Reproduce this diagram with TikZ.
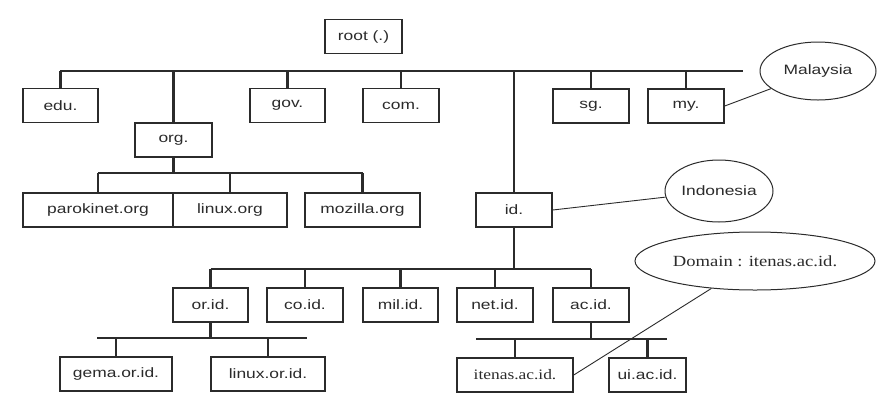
\documentclass[tikz,border=0pt]{standalone}
\usepackage{fontspec}
\setmainfont{Liberation Serif}
\newfontfamily\sansf[FakeStretch=1.28]{Liberation Sans}
\newfontfamily\seriff[FakeStretch=1.2]{Liberation Serif}
\usetikzlibrary{shapes.geometric}
\definecolor{ink}{HTML}{2B2B2B}
\begin{document}
\begin{tikzpicture}[x=1pt,y=-1pt,
  dbox/.style={draw=ink,line width=1.5pt,fill=white,minimum height=34pt,inner sep=0pt,
    font=\sansf\fontsize{13.6}{15}\selectfont,text=ink},
  sbox/.style={dbox,font=\seriff\fontsize{14.5}{16}\selectfont},
  bus/.style={draw=ink,line width=2.8pt},
  oval/.style={draw=ink,line width=1pt,ellipse,inner sep=0pt,fill=white,
    font=\sansf\fontsize{13.6}{15}\selectfont,text=ink},
  link/.style={draw=ink,line width=0.9pt}]
\useasboundingbox[fill=white] (0,0) rectangle (881,405);

% boxes
\node[dbox,minimum width=77pt] (root) at (363.5,36.5) {root (.)};
\node[dbox,minimum width=75pt] (edu) at (60.5,105.5) {edu.};
\node[dbox,minimum width=75pt] (gov) at (287.5,105.5) {gov.};
\node[dbox,minimum width=76pt] (com) at (401,105.5) {com.};
\node[dbox,minimum width=76pt] (sg) at (591,106) {sg.};
\node[dbox,minimum width=76pt] (my) at (686,106) {my.};
\node[dbox,minimum width=77pt] (org) at (173.5,140) {org.};
\node[dbox,minimum width=150pt] (paro) at (98,210) {parokinet.org};
\node[dbox,minimum width=114pt] (linuxorg) at (230,210) {linux.org};
\node[dbox,minimum width=115pt] (mozilla) at (362.5,210) {mozilla.org};
\node[dbox,minimum width=76pt] (id) at (514,210) {id.};
\node[dbox,minimum width=75pt] (orid) at (210.5,305) {or.id.};
\node[dbox,minimum width=76pt] (coid) at (305,305) {co.id.};
\node[dbox,minimum width=75pt] (milid) at (400.5,305) {mil.id.};
\node[dbox,minimum width=76pt] (netid) at (495,305) {net.id.};
\node[dbox,minimum width=76pt] (acid) at (591,305) {ac.id.};
\node[dbox,minimum width=112pt] (gema) at (116,374) {gema.or.id.};
\node[dbox,minimum width=114pt] (linuxorid) at (268,374) {linux.or.id.};
\node[sbox,minimum width=116pt] (itenas) at (515,375) {itenas.ac.id.};
\node[dbox,minimum width=77pt] (ui) at (647.5,375) {ui.ac.id.};

% ovals
\node[oval,minimum width=116pt,minimum height=58pt] (mal) at (818,71) {Malaysia};
\node[oval,minimum width=108pt,minimum height=62pt] (indo) at (719,191) {Indonesia};
\node[oval,minimum width=240pt,minimum height=58pt,
  font=\seriff\fontsize{15.5}{17}\selectfont] (dom) at (755,261) {Domain : itenas.ac.id.};

% bus coordinates
\coordinate (b1l) at (60,71);  \coordinate (b1r) at (743,71);
\coordinate (b2l) at (98,173); \coordinate (b2r) at (362.5,173);
\coordinate (b3l) at (210.5,269); \coordinate (b3r) at (591,269);
\coordinate (b4l) at (97,338); \coordinate (b4r) at (307,338);
\coordinate (b5l) at (476,339); \coordinate (b5r) at (667,339);

% top level
\draw[bus] (b1l) -- (b1r);
\foreach \n in {edu,org,gov,com,sg,my,id} \draw[bus] (\n.north) -- (\n.north |- b1l);
% org level
\draw[bus] (b2l) -- (b2r);
\draw[bus] (org.south) -- (org.south |- b2l);
\foreach \n in {paro,linuxorg,mozilla} \draw[bus] (\n.north) -- (\n.north |- b2l);
% id level
\draw[bus] (b3l) -- (b3r);
\draw[bus] (id.south) -- (id.south |- b3l);
\foreach \n in {orid,coid,milid,netid,acid} \draw[bus] (\n.north) -- (\n.north |- b3l);
% or.id level
\draw[bus] (b4l) -- (b4r);
\draw[bus] (orid.south) -- (orid.south |- b4l);
\foreach \n in {gema,linuxorid} \draw[bus] (\n.north) -- (\n.north |- b4l);
% ac.id level
\draw[bus] (b5l) -- (b5r);
\draw[bus] (acid.south) -- (acid.south |- b5l);
\foreach \n in {itenas,ui} \draw[bus] (\n.north) -- (\n.north |- b5l);

% callouts
\draw[link] (my.east) -- (mal);
\draw[link] (id.east) -- (indo);
\draw[link] (itenas.east) -- (dom);
\end{tikzpicture}
\end{document}
